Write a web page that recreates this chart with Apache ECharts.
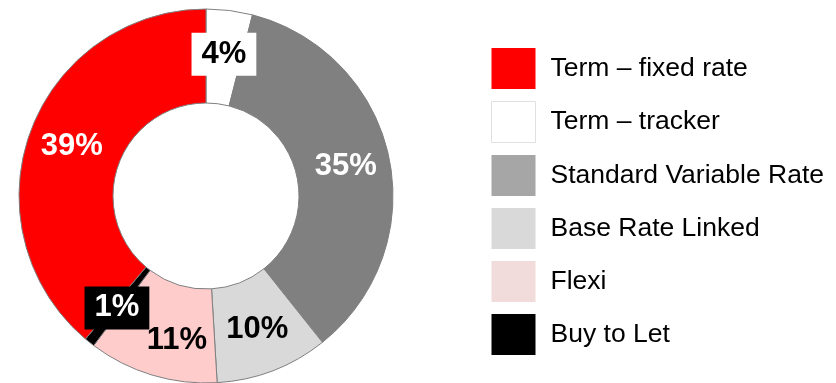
<!DOCTYPE html>
<html>
<head>
<meta charset="utf-8">
<script src="https://cdn.jsdelivr.net/npm/echarts@6/dist/echarts.min.js"></script>
<style>
  html, body { margin: 0; padding: 0; background: #fff; }
  #mortgage_mix_chart { width: 836px; height: 383px; }
</style>
</head>
<body>
<div id="mortgage_mix_chart"></div>
<script>
// slices in clockwise order from 12 o'clock
var sliceNames = ['Term – tracker', 'Standard Variable Rate', 'Base Rate Linked', 'Flexi', 'Buy to Let', 'Term – fixed rate'];
var sliceValues = [4.0, 35.3, 9.75, 11.2, 0.9, 38.85];
var sliceColors = ['#ffffff', '#808080', '#d9d9d9', '#ffcccc', '#000000', '#ff0000'];

// legend order and swatch colours (legend uses lighter tints than the ring)
var legendNames = ['Term – fixed rate', 'Term – tracker', 'Standard Variable Rate', 'Base Rate Linked', 'Flexi', 'Buy to Let'];
var legendColors = ['#ff0000', '#ffffff', '#a6a6a6', '#d9d9d9', '#f2dcdb', '#000000'];

var labelStyles = {
  'Term – tracker': { color: '#000', backgroundColor: '#fff', padding: [6, 10] },
  'Standard Variable Rate': { color: '#fff' },
  'Base Rate Linked': { color: '#000' },
  'Flexi': { color: '#000' },
  'Buy to Let': { color: '#fff', backgroundColor: '#000', padding: [6, 10] },
  'Term – fixed rate': { color: '#fff' }
};

function init_chart() {
  var chartDom = document.getElementById('mortgage_mix_chart');
  var myChart = echarts.init(chartDom);

  var pieData = sliceNames.map(function (name, i) {
    return {
      name: name,
      value: sliceValues[i],
      itemStyle: { color: sliceColors[i] },
      label: labelStyles[name]
    };
  });

  var legendData = legendNames.map(function (name, i) {
    return {
      name: name,
      itemStyle: {
        color: legendColors[i],
        borderColor: name === 'Term – tracker' ? '#e0e0e0' : legendColors[i],
        borderWidth: name === 'Term – tracker' ? 1 : 0
      }
    };
  });

  var option = {
    animation: false,
    legend: {
      orient: 'vertical',
      left: 486,
      top: 43,
      itemWidth: 44,
      itemHeight: 41,
      itemGap: 12,
      icon: 'rect',
      selectedMode: false,
      data: legendData,
      textStyle: {
        fontFamily: 'Liberation Sans, Arial, sans-serif',
        fontSize: 26.5,
        color: '#000',
        padding: [0, 0, 0, 10]
      }
    },
    series: [
      {
        name: 'Mortgage mix',
        type: 'pie',
        center: [206, 196],
        radius: [93, 187],
        startAngle: 90,
        clockwise: true,
        itemStyle: {
          borderColor: '#7f7f7f',
          borderWidth: 1
        },
        label: {
          show: true,
          position: 'inside',
          fontFamily: 'Liberation Sans, Arial, sans-serif',
          fontWeight: 'bold',
          fontSize: 31,
          formatter: function (p) {
            return Math.round(p.value) + '%';
          }
        },
        labelLayout: function (params) {
          if (params.dataIndex === 3) {
            return { dx: 12, dy: 8 };
          }
          return {};
        },
        labelLine: { show: false },
        emphasis: { disabled: true },
        data: pieData
      }
    ]
  };

  myChart.setOption(option);
}

init_chart();
</script>
</body>
</html>
